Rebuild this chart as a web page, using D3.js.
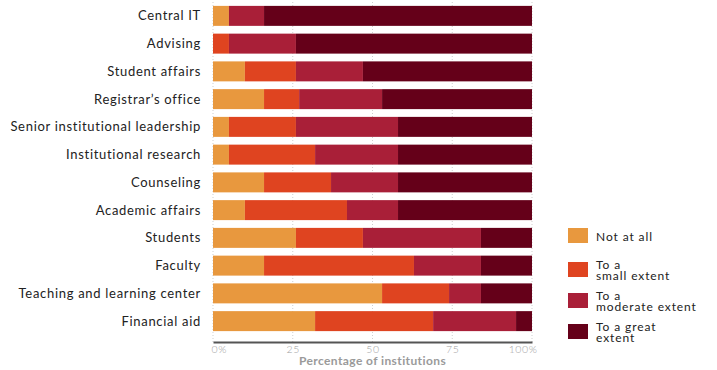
<!DOCTYPE html>
<html>
<head>
<meta charset="utf-8">
<script src="https://cdn.jsdelivr.net/npm/d3@7"></script>
<style>
    body { margin: 0; background: #fff; }
    svg { display: block; font-family: Lato, "Noto Sans", sans-serif; }
</style>
</head>
<body>
<svg id="chart"></svg>
<script>
// Data
let units = ['Central IT', 'Advising', 'Student affairs', 'Registrar\u2019s office',
    'Senior institutional leadership', 'Institutional research', 'Counseling',
    'Academic affairs', 'Students', 'Faculty', 'Teaching and learning center', 'Financial aid'];

let notAtAll =    [5, 0, 10, 16, 5, 5, 16, 10, 26, 16, 53, 32];
let smallExtent = [0, 5, 16, 11, 21, 27, 21, 32, 21, 47, 21, 37];
let moderate =    [11, 21, 21, 26, 32, 26, 21, 16, 37, 21, 10, 26];
let greatExtent = [84, 74, 53, 47, 42, 42, 42, 42, 16, 16, 16, 5];

let seriesNames = ['Not at all', 'To a small extent', 'To a moderate extent', 'To a great extent'];
let legendLines = [['Not at all'], ['To a', 'small extent'], ['To a', 'moderate extent'], ['To a great', 'extent']];
let tickValues = [0, 25, 50, 75, 100];
let tickLabels = ['0%', '25', '50', '75', '100%'];

let c = {
    width: 717,
    height: 370,
    plot: { left: 213, right: 532, top: 2, bottom: 335 },
    axisY: 342,
    colors: ['#e8983e', '#df4420', '#a91f38', '#650019']
};

let svg = d3.select('#chart')
    .attr('width', c.width)
    .attr('height', c.height);

// Build rows for the stack
let rows = units.map((u, i) => ({
    unit: u,
    'Not at all': notAtAll[i],
    'To a small extent': smallExtent[i],
    'To a moderate extent': moderate[i],
    'To a great extent': greatExtent[i]
}));

let stack = d3.stack().keys(seriesNames)(rows);

let x = d3.scaleLinear()
    .domain([0, 100])
    .range([c.plot.left, c.plot.right]);

let y = d3.scaleBand()
    .domain(units)
    .range([c.plot.top, c.plot.bottom])
    .paddingInner(0.28)
    .paddingOuter(0.14);

let color = d3.scaleOrdinal()
    .domain(seriesNames)
    .range(c.colors);

// dotted grid lines
svg.append('g')
    .attr('id', 'grid')
    .selectAll('line')
    .data(tickValues)
    .join('line')
    .attr('x1', d => x(d))
    .attr('x2', d => x(d))
    .attr('y1', c.plot.top)
    .attr('y2', c.axisY)
    .attr('stroke', '#cfcfcf')
    .attr('stroke-width', 1)
    .attr('stroke-dasharray', '1,2');

// bars
svg.append('g')
    .attr('id', 'plot')
    .selectAll('g')
    .data(stack)
    .join('g')
    .attr('fill', d => color(d.key))
    .selectAll('rect')
    .data(d => d)
    .join('rect')
    .attr('x', d => x(d[0]))
    .attr('y', d => y(d.data.unit))
    .attr('width', d => x(d[1]) - x(d[0]))
    .attr('height', y.bandwidth());

// category labels
svg.append('g')
    .attr('id', 'labels')
    .selectAll('text')
    .data(units)
    .join('text')
    .attr('x', 201)
    .attr('y', d => y(d) + y.bandwidth() / 2)
    .attr('dy', '0.35em')
    .attr('text-anchor', 'end')
    .attr('font-size', 13)
    .attr('letter-spacing', 0.7)
    .attr('fill', '#222')
    .text(d => d);

// x axis
let xAxis = d3.axisBottom(x)
    .tickValues(tickValues)
    .tickSize(0)
    .tickPadding(4)
    .tickFormat((d, i) => tickLabels[i]);

let axisG = svg.append('g')
    .attr('id', 'axes')
    .attr('transform', translate(0, c.axisY))
    .call(xAxis);

axisG.select('.domain')
    .attr('stroke', '#555')
    .attr('stroke-width', 2);

axisG.selectAll('text')
    .attr('font-family', 'Lato, "Noto Sans", sans-serif')
    .attr('font-size', 10.5)
    .attr('font-weight', 300)
    .attr('letter-spacing', 0.6)
    .attr('fill', '#a0a0a0')
    .attr('text-anchor', (d, i) => i === 0 ? 'start' : (i === tickValues.length - 1 ? 'end' : 'middle'))
    .attr('dx', (d, i) => i === 0 ? -2 : (i === tickValues.length - 1 ? 5 : 0));

svg.append('text')
    .attr('x', (c.plot.left + c.plot.right) / 2)
    .attr('y', 365)
    .attr('text-anchor', 'middle')
    .attr('font-size', 12)
    .attr('font-weight', 'bold')
    .attr('letter-spacing', 0.4)
    .attr('fill', '#9a9a9a')
    .text('Percentage of institutions');

// legend
let legendY = [228, 262, 293, 324];
let legend = svg.append('g')
    .attr('id', 'legend')
    .selectAll('g')
    .data(seriesNames)
    .join('g')
    .attr('transform', (d, i) => translate(568, legendY[i]));

legend.append('rect')
    .attr('width', 20)
    .attr('height', 15)
    .attr('fill', d => color(d));

legend.each(function (d, i) {
    let lines = legendLines[i];
    let first = lines.length === 1 ? 13 : 7;
    d3.select(this).selectAll('text')
        .data(lines)
        .join('text')
        .attr('x', 28)
        .attr('y', (t, j) => first + j * 11)
        .attr('font-size', 12)
        .attr('letter-spacing', 0.9)
        .attr('fill', '#222')
        .text(t => t);
});

function translate(x, y) {
    return 'translate(' + x + ',' + y + ')';
}
</script>
</body>
</html>
